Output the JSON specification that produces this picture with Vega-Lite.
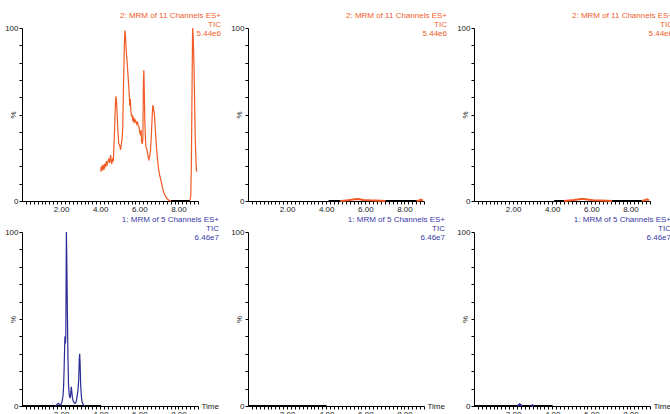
{
  "$schema": "https://vega.github.io/schema/vega-lite/v6.json",
  "padding": {"left": 4, "top": 12, "right": 0, "bottom": 0},
  "background": "white",
  "config": {
    "view": {"stroke": null},
    "axis": {"grid": false, "domainColor": "black", "tickColor": "black", "labelFont": "Liberation Sans", "labelFontSize": 8, "labelColor": "#222", "titleFont": "Liberation Sans", "titleFontSize": 8, "titleFontWeight": "normal", "titleColor": "#222", "labelOverlap": false, "labelFlush": false},
    "title": {"font": "Liberation Sans", "fontSize": 8, "fontWeight": "normal", "anchor": "end", "align": "right", "frame": "group", "lineHeight": 9, "dx": 23, "offset": -14}
  },
  "data": {"values": [
    {"panel":"t1","kind":"trace","seg":"a","time":4.02,"pct":17},{"panel":"t1","kind":"trace","seg":"a","time":4.06,"pct":20},{"panel":"t1","kind":"trace","seg":"a","time":4.1,"pct":17.5},{"panel":"t1","kind":"trace","seg":"a","time":4.14,"pct":21},{"panel":"t1","kind":"trace","seg":"a","time":4.19,"pct":18},{"panel":"t1","kind":"trace","seg":"a","time":4.23,"pct":21.5},{"panel":"t1","kind":"trace","seg":"a","time":4.27,"pct":19.5},{"panel":"t1","kind":"trace","seg":"a","time":4.31,"pct":23},{"panel":"t1","kind":"trace","seg":"a","time":4.35,"pct":21},{"panel":"t1","kind":"trace","seg":"a","time":4.39,"pct":22.5},{"panel":"t1","kind":"trace","seg":"a","time":4.44,"pct":24.5},{"panel":"t1","kind":"trace","seg":"a","time":4.48,"pct":22},{"panel":"t1","kind":"trace","seg":"a","time":4.53,"pct":26.5},{"panel":"t1","kind":"trace","seg":"a","time":4.56,"pct":23.5},{"panel":"t1","kind":"trace","seg":"a","time":4.59,"pct":21.5},{"panel":"t1","kind":"trace","seg":"a","time":4.63,"pct":24},{"panel":"t1","kind":"trace","seg":"a","time":4.67,"pct":23},{"panel":"t1","kind":"trace","seg":"a","time":4.7,"pct":31},{"panel":"t1","kind":"trace","seg":"a","time":4.75,"pct":47},{"panel":"t1","kind":"trace","seg":"a","time":4.78,"pct":57},{"panel":"t1","kind":"trace","seg":"a","time":4.8,"pct":60.5},{"panel":"t1","kind":"trace","seg":"a","time":4.83,"pct":58},{"panel":"t1","kind":"trace","seg":"a","time":4.86,"pct":52},{"panel":"t1","kind":"trace","seg":"a","time":4.9,"pct":41},{"panel":"t1","kind":"trace","seg":"a","time":4.95,"pct":33},{"panel":"t1","kind":"trace","seg":"a","time":5.0,"pct":32},{"panel":"t1","kind":"trace","seg":"a","time":5.04,"pct":29.5},{"panel":"t1","kind":"trace","seg":"a","time":5.08,"pct":33},{"panel":"t1","kind":"trace","seg":"a","time":5.12,"pct":36},{"panel":"t1","kind":"trace","seg":"a","time":5.15,"pct":42},{"panel":"t1","kind":"trace","seg":"a","time":5.19,"pct":66},{"panel":"t1","kind":"trace","seg":"a","time":5.23,"pct":88},{"panel":"t1","kind":"trace","seg":"a","time":5.26,"pct":98.5},{"panel":"t1","kind":"trace","seg":"a","time":5.29,"pct":96},{"panel":"t1","kind":"trace","seg":"a","time":5.31,"pct":91},{"panel":"t1","kind":"trace","seg":"a","time":5.35,"pct":84},{"panel":"t1","kind":"trace","seg":"a","time":5.38,"pct":79.5},{"panel":"t1","kind":"trace","seg":"a","time":5.42,"pct":73},{"panel":"t1","kind":"trace","seg":"a","time":5.46,"pct":66},{"panel":"t1","kind":"trace","seg":"a","time":5.49,"pct":60},{"panel":"t1","kind":"trace","seg":"a","time":5.51,"pct":55},{"panel":"t1","kind":"trace","seg":"a","time":5.54,"pct":59},{"panel":"t1","kind":"trace","seg":"a","time":5.57,"pct":52},{"panel":"t1","kind":"trace","seg":"a","time":5.6,"pct":49},{"panel":"t1","kind":"trace","seg":"a","time":5.63,"pct":50},{"panel":"t1","kind":"trace","seg":"a","time":5.66,"pct":47},{"panel":"t1","kind":"trace","seg":"a","time":5.7,"pct":48},{"panel":"t1","kind":"trace","seg":"a","time":5.74,"pct":45},{"panel":"t1","kind":"trace","seg":"a","time":5.78,"pct":47},{"panel":"t1","kind":"trace","seg":"a","time":5.82,"pct":46},{"panel":"t1","kind":"trace","seg":"a","time":5.86,"pct":44.5},{"panel":"t1","kind":"trace","seg":"a","time":5.9,"pct":46},{"panel":"t1","kind":"trace","seg":"a","time":5.94,"pct":43.5},{"panel":"t1","kind":"trace","seg":"a","time":5.98,"pct":43},{"panel":"t1","kind":"trace","seg":"a","time":6.02,"pct":40},{"panel":"t1","kind":"trace","seg":"a","time":6.06,"pct":38},{"panel":"t1","kind":"trace","seg":"a","time":6.09,"pct":41},{"panel":"t1","kind":"trace","seg":"a","time":6.12,"pct":34},{"panel":"t1","kind":"trace","seg":"a","time":6.15,"pct":33},{"panel":"t1","kind":"trace","seg":"a","time":6.18,"pct":36},{"panel":"t1","kind":"trace","seg":"a","time":6.21,"pct":70},{"panel":"t1","kind":"trace","seg":"a","time":6.23,"pct":75.5},{"panel":"t1","kind":"trace","seg":"a","time":6.25,"pct":66},{"panel":"t1","kind":"trace","seg":"a","time":6.28,"pct":47},{"panel":"t1","kind":"trace","seg":"a","time":6.31,"pct":36},{"panel":"t1","kind":"trace","seg":"a","time":6.34,"pct":31},{"panel":"t1","kind":"trace","seg":"a","time":6.38,"pct":30},{"panel":"t1","kind":"trace","seg":"a","time":6.42,"pct":28},{"panel":"t1","kind":"trace","seg":"a","time":6.46,"pct":25},{"panel":"t1","kind":"trace","seg":"a","time":6.49,"pct":24},{"panel":"t1","kind":"trace","seg":"a","time":6.53,"pct":26},{"panel":"t1","kind":"trace","seg":"a","time":6.57,"pct":29},{"panel":"t1","kind":"trace","seg":"a","time":6.61,"pct":37},{"panel":"t1","kind":"trace","seg":"a","time":6.65,"pct":47},{"panel":"t1","kind":"trace","seg":"a","time":6.68,"pct":54},{"panel":"t1","kind":"trace","seg":"a","time":6.7,"pct":55.5},{"panel":"t1","kind":"trace","seg":"a","time":6.73,"pct":53},{"panel":"t1","kind":"trace","seg":"a","time":6.77,"pct":50},{"panel":"t1","kind":"trace","seg":"a","time":6.8,"pct":45},{"panel":"t1","kind":"trace","seg":"a","time":6.83,"pct":39},{"panel":"t1","kind":"trace","seg":"a","time":6.87,"pct":32},{"panel":"t1","kind":"trace","seg":"a","time":6.9,"pct":28},{"panel":"t1","kind":"trace","seg":"a","time":6.95,"pct":22},{"panel":"t1","kind":"trace","seg":"a","time":6.99,"pct":18},{"panel":"t1","kind":"trace","seg":"a","time":7.04,"pct":15},{"panel":"t1","kind":"trace","seg":"a","time":7.1,"pct":12},{"panel":"t1","kind":"trace","seg":"a","time":7.16,"pct":9},{"panel":"t1","kind":"trace","seg":"a","time":7.22,"pct":6},{"panel":"t1","kind":"trace","seg":"a","time":7.28,"pct":4},{"panel":"t1","kind":"trace","seg":"a","time":7.35,"pct":2.5},{"panel":"t1","kind":"trace","seg":"a","time":7.42,"pct":1.3},{"panel":"t1","kind":"trace","seg":"a","time":7.5,"pct":0.5},{"panel":"t1","kind":"trace","seg":"a","time":7.58,"pct":0.1},{"panel":"t1","kind":"trace","seg":"a","time":7.66,"pct":0},
    {"panel":"t1","kind":"trace","seg":"b","time":8.55,"pct":0},{"panel":"t1","kind":"trace","seg":"b","time":8.6,"pct":1},{"panel":"t1","kind":"trace","seg":"b","time":8.63,"pct":3},{"panel":"t1","kind":"trace","seg":"b","time":8.66,"pct":20},{"panel":"t1","kind":"trace","seg":"b","time":8.69,"pct":58},{"panel":"t1","kind":"trace","seg":"b","time":8.72,"pct":95},{"panel":"t1","kind":"trace","seg":"b","time":8.73,"pct":100},{"panel":"t1","kind":"trace","seg":"b","time":8.75,"pct":96},{"panel":"t1","kind":"trace","seg":"b","time":8.78,"pct":85},{"panel":"t1","kind":"trace","seg":"b","time":8.8,"pct":76},{"panel":"t1","kind":"trace","seg":"b","time":8.83,"pct":55},{"panel":"t1","kind":"trace","seg":"b","time":8.86,"pct":36},{"panel":"t1","kind":"trace","seg":"b","time":8.89,"pct":25},{"panel":"t1","kind":"trace","seg":"b","time":8.92,"pct":18},{"panel":"t1","kind":"trace","seg":"b","time":8.94,"pct":17},
    {"panel":"t1","kind":"base","seg":"c","time":7.62,"pct":0},{"panel":"t1","kind":"base","seg":"c","time":8.58,"pct":0},

    {"panel":"t2","kind":"base","seg":"c","time":4.12,"pct":0},{"panel":"t2","kind":"base","seg":"c","time":4.73,"pct":0},
    {"panel":"t2","kind":"base","seg":"d","time":7.02,"pct":0},{"panel":"t2","kind":"base","seg":"d","time":8.63,"pct":0},
    {"panel":"t2","kind":"trace","seg":"a","time":4.73,"pct":0},{"panel":"t2","kind":"trace","seg":"a","time":4.9,"pct":0.2},{"panel":"t2","kind":"trace","seg":"a","time":5.1,"pct":0.4},{"panel":"t2","kind":"trace","seg":"a","time":5.3,"pct":0.7},{"panel":"t2","kind":"trace","seg":"a","time":5.45,"pct":1},{"panel":"t2","kind":"trace","seg":"a","time":5.58,"pct":1.2},{"panel":"t2","kind":"trace","seg":"a","time":5.7,"pct":1},{"panel":"t2","kind":"trace","seg":"a","time":5.9,"pct":0.6},{"panel":"t2","kind":"trace","seg":"a","time":6.2,"pct":0.4},{"panel":"t2","kind":"trace","seg":"a","time":6.5,"pct":0.3},{"panel":"t2","kind":"trace","seg":"a","time":6.8,"pct":0.2},{"panel":"t2","kind":"trace","seg":"a","time":7.02,"pct":0},
    {"panel":"t2","kind":"trace","seg":"b","time":8.63,"pct":0},{"panel":"t2","kind":"trace","seg":"b","time":8.75,"pct":0.3},{"panel":"t2","kind":"trace","seg":"b","time":8.84,"pct":0.8},{"panel":"t2","kind":"trace","seg":"b","time":8.9,"pct":0.4},{"panel":"t2","kind":"trace","seg":"b","time":8.95,"pct":0.2},

    {"panel":"t3","kind":"base","seg":"c","time":4.1,"pct":0},{"panel":"t3","kind":"base","seg":"c","time":4.6,"pct":0},
    {"panel":"t3","kind":"base","seg":"d","time":7.06,"pct":0},{"panel":"t3","kind":"base","seg":"d","time":8.58,"pct":0},
    {"panel":"t3","kind":"trace","seg":"a","time":4.6,"pct":0},{"panel":"t3","kind":"trace","seg":"a","time":4.85,"pct":0.3},{"panel":"t3","kind":"trace","seg":"a","time":5.1,"pct":0.6},{"panel":"t3","kind":"trace","seg":"a","time":5.3,"pct":0.9},{"panel":"t3","kind":"trace","seg":"a","time":5.45,"pct":1.2},{"panel":"t3","kind":"trace","seg":"a","time":5.6,"pct":1.1},{"panel":"t3","kind":"trace","seg":"a","time":5.8,"pct":0.8},{"panel":"t3","kind":"trace","seg":"a","time":6.1,"pct":0.5},{"panel":"t3","kind":"trace","seg":"a","time":6.5,"pct":0.3},{"panel":"t3","kind":"trace","seg":"a","time":6.8,"pct":0.2},{"panel":"t3","kind":"trace","seg":"a","time":7.06,"pct":0},
    {"panel":"t3","kind":"trace","seg":"b","time":8.6,"pct":0},{"panel":"t3","kind":"trace","seg":"b","time":8.72,"pct":0.4},{"panel":"t3","kind":"trace","seg":"b","time":8.84,"pct":1},{"panel":"t3","kind":"trace","seg":"b","time":8.9,"pct":0.6},{"panel":"t3","kind":"trace","seg":"b","time":8.95,"pct":0.3},

    {"panel":"b1","kind":"base","seg":"c","time":0,"pct":0},{"panel":"b1","kind":"base","seg":"c","time":4.05,"pct":0},
    {"panel":"b1","kind":"trace","seg":"a","time":1.7,"pct":0},{"panel":"b1","kind":"trace","seg":"a","time":1.78,"pct":0.8},{"panel":"b1","kind":"trace","seg":"a","time":1.85,"pct":1.5},{"panel":"b1","kind":"trace","seg":"a","time":1.9,"pct":1},{"panel":"b1","kind":"trace","seg":"a","time":1.95,"pct":0.5},{"panel":"b1","kind":"trace","seg":"a","time":2.0,"pct":1},{"panel":"b1","kind":"trace","seg":"a","time":2.05,"pct":2.5},{"panel":"b1","kind":"trace","seg":"a","time":2.1,"pct":6},{"panel":"b1","kind":"trace","seg":"a","time":2.13,"pct":12},{"panel":"b1","kind":"trace","seg":"a","time":2.16,"pct":24},{"panel":"b1","kind":"trace","seg":"a","time":2.19,"pct":38},{"panel":"b1","kind":"trace","seg":"a","time":2.2,"pct":40},{"panel":"b1","kind":"trace","seg":"a","time":2.22,"pct":36},{"panel":"b1","kind":"trace","seg":"a","time":2.24,"pct":40},{"panel":"b1","kind":"trace","seg":"a","time":2.26,"pct":80},{"panel":"b1","kind":"trace","seg":"a","time":2.27,"pct":100},{"panel":"b1","kind":"trace","seg":"a","time":2.29,"pct":85},{"panel":"b1","kind":"trace","seg":"a","time":2.32,"pct":55},{"panel":"b1","kind":"trace","seg":"a","time":2.35,"pct":28},{"panel":"b1","kind":"trace","seg":"a","time":2.38,"pct":12},{"panel":"b1","kind":"trace","seg":"a","time":2.42,"pct":6},{"panel":"b1","kind":"trace","seg":"a","time":2.46,"pct":4.5},{"panel":"b1","kind":"trace","seg":"a","time":2.49,"pct":7},{"panel":"b1","kind":"trace","seg":"a","time":2.52,"pct":11},{"panel":"b1","kind":"trace","seg":"a","time":2.55,"pct":8},{"panel":"b1","kind":"trace","seg":"a","time":2.58,"pct":4.5},{"panel":"b1","kind":"trace","seg":"a","time":2.63,"pct":2.5},{"panel":"b1","kind":"trace","seg":"a","time":2.7,"pct":1.5},{"panel":"b1","kind":"trace","seg":"a","time":2.76,"pct":2},{"panel":"b1","kind":"trace","seg":"a","time":2.81,"pct":5},{"panel":"b1","kind":"trace","seg":"a","time":2.86,"pct":9},{"panel":"b1","kind":"trace","seg":"a","time":2.9,"pct":15},{"panel":"b1","kind":"trace","seg":"a","time":2.93,"pct":27},{"panel":"b1","kind":"trace","seg":"a","time":2.95,"pct":30},{"panel":"b1","kind":"trace","seg":"a","time":2.97,"pct":25},{"panel":"b1","kind":"trace","seg":"a","time":3.0,"pct":12},{"panel":"b1","kind":"trace","seg":"a","time":3.04,"pct":5},{"panel":"b1","kind":"trace","seg":"a","time":3.08,"pct":2},{"panel":"b1","kind":"trace","seg":"a","time":3.14,"pct":0.6},{"panel":"b1","kind":"trace","seg":"a","time":3.2,"pct":0},

    {"panel":"b2","kind":"base","seg":"c","time":0,"pct":0},{"panel":"b2","kind":"base","seg":"c","time":4.02,"pct":0},

    {"panel":"b3","kind":"base","seg":"c","time":0,"pct":0},{"panel":"b3","kind":"base","seg":"c","time":4.02,"pct":0},
    {"panel":"b3","kind":"trace","seg":"a","time":2.22,"pct":0},{"panel":"b3","kind":"trace","seg":"a","time":2.3,"pct":0.6},{"panel":"b3","kind":"trace","seg":"a","time":2.34,"pct":1},{"panel":"b3","kind":"trace","seg":"a","time":2.38,"pct":0.6},{"panel":"b3","kind":"trace","seg":"a","time":2.45,"pct":0},
    {"panel":"b3","kind":"trace","seg":"b","time":2.92,"pct":0},{"panel":"b3","kind":"trace","seg":"b","time":2.99,"pct":0.5},{"panel":"b3","kind":"trace","seg":"b","time":3.06,"pct":0}
  ]},
  "columns": 3,
  "spacing": {"row": 31, "column": 50},
  "bounds": "flush",
  "concat": [
      {"width": 176, "height": 173,
       "title": {"text": ["2: MRM of 11 Channels ES+", "TIC", "5.44e6"], "color": "#f0602a"},
       "encoding": {
         "x": {"field": "time", "type": "quantitative", "scale": {"domain": [0, 9], "nice": false}, "axis": {"title": null, "values": [0.2,0.4,0.6,0.8,1,1.2,1.4,1.6,1.8,2,2.2,2.4,2.6,2.8,3,3.2,3.4,3.6,3.8,4,4.2,4.4,4.6,4.8,5,5.2,5.4,5.6,5.8,6,6.2,6.4,6.6,6.8,7,7.2,7.4,7.6,7.8,8,8.2,8.4,8.6,8.8,9], "labelExpr": "datum.value==2||datum.value==4||datum.value==6||datum.value==8 ? format(datum.value,'.2f') : ''", "tickSize": 3, "labelPadding": 1}},
         "y": {"field": "pct", "type": "quantitative", "scale": {"domain": [0, 100], "nice": false}, "axis": {"title": "%", "titleX": -9, "titleY": 86.5, "titleAngle": 270, "titleAlign": "center", "titleBaseline": "middle", "values": [0,10,20,30,40,50,60,70,80,90,100], "labelExpr": "datum.value==0||datum.value==100 ? datum.label : ''", "tickSize": 3, "labelPadding": 1}},
         "detail": {"field": "seg"}
       },
       "layer": [
         {"transform": [{"filter": "datum.panel=='t1' && datum.kind=='trace'"}], "mark": {"type": "line", "color": "#f15a24", "strokeWidth": 1.2}},
         {"transform": [{"filter": "datum.panel=='t1' && datum.kind=='base'"}], "mark": {"type": "line", "color": "black", "strokeWidth": 2}}
       ]},
      {"width": 176, "height": 173,
       "title": {"text": ["2: MRM of 11 Channels ES+", "TIC", "5.44e6"], "color": "#f0602a"},
       "encoding": {
         "x": {"field": "time", "type": "quantitative", "scale": {"domain": [0, 9], "nice": false}, "axis": {"title": null, "values": [0.2,0.4,0.6,0.8,1,1.2,1.4,1.6,1.8,2,2.2,2.4,2.6,2.8,3,3.2,3.4,3.6,3.8,4,4.2,4.4,4.6,4.8,5,5.2,5.4,5.6,5.8,6,6.2,6.4,6.6,6.8,7,7.2,7.4,7.6,7.8,8,8.2,8.4,8.6,8.8,9], "labelExpr": "datum.value==2||datum.value==4||datum.value==6||datum.value==8 ? format(datum.value,'.2f') : ''", "tickSize": 3, "labelPadding": 1}},
         "y": {"field": "pct", "type": "quantitative", "scale": {"domain": [0, 100], "nice": false}, "axis": {"title": "%", "titleX": -9, "titleY": 86.5, "titleAngle": 270, "titleAlign": "center", "titleBaseline": "middle", "values": [0,10,20,30,40,50,60,70,80,90,100], "labelExpr": "datum.value==0||datum.value==100 ? datum.label : ''", "tickSize": 3, "labelPadding": 1}},
         "detail": {"field": "seg"}
       },
       "layer": [
         {"transform": [{"filter": "datum.panel=='t2' && datum.kind=='base'"}], "mark": {"type": "line", "color": "black", "strokeWidth": 2}},
         {"transform": [{"filter": "datum.panel=='t2' && datum.kind=='trace'"}], "mark": {"type": "line", "color": "#f15a24", "strokeWidth": 2}}
       ]},
      {"width": 176, "height": 173,
       "title": {"text": ["2: MRM of 11 Channels ES+", "TIC", "5.44e6"], "color": "#f0602a"},
       "encoding": {
         "x": {"field": "time", "type": "quantitative", "scale": {"domain": [0, 9], "nice": false}, "axis": {"title": null, "values": [0.2,0.4,0.6,0.8,1,1.2,1.4,1.6,1.8,2,2.2,2.4,2.6,2.8,3,3.2,3.4,3.6,3.8,4,4.2,4.4,4.6,4.8,5,5.2,5.4,5.6,5.8,6,6.2,6.4,6.6,6.8,7,7.2,7.4,7.6,7.8,8,8.2,8.4,8.6,8.8,9], "labelExpr": "datum.value==2||datum.value==4||datum.value==6||datum.value==8 ? format(datum.value,'.2f') : ''", "tickSize": 3, "labelPadding": 1}},
         "y": {"field": "pct", "type": "quantitative", "scale": {"domain": [0, 100], "nice": false}, "axis": {"title": "%", "titleX": -9, "titleY": 86.5, "titleAngle": 270, "titleAlign": "center", "titleBaseline": "middle", "values": [0,10,20,30,40,50,60,70,80,90,100], "labelExpr": "datum.value==0||datum.value==100 ? datum.label : ''", "tickSize": 3, "labelPadding": 1}},
         "detail": {"field": "seg"}
       },
       "layer": [
         {"transform": [{"filter": "datum.panel=='t3' && datum.kind=='base'"}], "mark": {"type": "line", "color": "black", "strokeWidth": 2}},
         {"transform": [{"filter": "datum.panel=='t3' && datum.kind=='trace'"}], "mark": {"type": "line", "color": "#f15a24", "strokeWidth": 2}}
       ]},
      {"width": 176, "height": 174,
       "title": {"text": ["1: MRM of 5 Channels ES+", "TIC", "6.46e7"], "color": "#3a3aa6", "dx": 21},
       "encoding": {
         "x": {"field": "time", "type": "quantitative", "scale": {"domain": [0, 9], "nice": false}, "axis": {"title": "Time", "titleX": 179, "titleY": 0, "titleAlign": "left", "titleBaseline": "middle", "titleAngle": 0, "values": [0.2,0.4,0.6,0.8,1,1.2,1.4,1.6,1.8,2,2.2,2.4,2.6,2.8,3,3.2,3.4,3.6,3.8,4,4.2,4.4,4.6,4.8,5,5.2,5.4,5.6,5.8,6,6.2,6.4,6.6,6.8,7,7.2,7.4,7.6,7.8,8,8.2,8.4,8.6,8.8,9], "labelExpr": "datum.value==2||datum.value==4||datum.value==6||datum.value==8 ? format(datum.value,'.2f') : ''", "tickSize": 3, "labelPadding": 1}},
         "y": {"field": "pct", "type": "quantitative", "scale": {"domain": [0, 100], "nice": false}, "axis": {"title": "%", "titleX": -9, "titleY": 87, "titleAngle": 270, "titleAlign": "center", "titleBaseline": "middle", "values": [0,10,20,30,40,50,60,70,80,90,100], "labelExpr": "datum.value==0||datum.value==100 ? datum.label : ''", "tickSize": 3, "labelPadding": 1}},
         "detail": {"field": "seg"}
       },
       "layer": [
         {"transform": [{"filter": "datum.panel=='b1' && datum.kind=='base'"}], "mark": {"type": "line", "color": "black", "strokeWidth": 2}},
         {"transform": [{"filter": "datum.panel=='b1' && datum.kind=='trace'"}], "mark": {"type": "line", "color": "#2b2b98", "strokeWidth": 1.2}}
       ]},
      {"width": 176, "height": 174,
       "title": {"text": ["1: MRM of 5 Channels ES+", "TIC", "6.46e7"], "color": "#3a3aa6", "dx": 21},
       "encoding": {
         "x": {"field": "time", "type": "quantitative", "scale": {"domain": [0, 9], "nice": false}, "axis": {"title": "Time", "titleX": 179, "titleY": 0, "titleAlign": "left", "titleBaseline": "middle", "titleAngle": 0, "values": [0.2,0.4,0.6,0.8,1,1.2,1.4,1.6,1.8,2,2.2,2.4,2.6,2.8,3,3.2,3.4,3.6,3.8,4,4.2,4.4,4.6,4.8,5,5.2,5.4,5.6,5.8,6,6.2,6.4,6.6,6.8,7,7.2,7.4,7.6,7.8,8,8.2,8.4,8.6,8.8,9], "labelExpr": "datum.value==2||datum.value==4||datum.value==6||datum.value==8 ? format(datum.value,'.2f') : ''", "tickSize": 3, "labelPadding": 1}},
         "y": {"field": "pct", "type": "quantitative", "scale": {"domain": [0, 100], "nice": false}, "axis": {"title": "%", "titleX": -9, "titleY": 87, "titleAngle": 270, "titleAlign": "center", "titleBaseline": "middle", "values": [0,10,20,30,40,50,60,70,80,90,100], "labelExpr": "datum.value==0||datum.value==100 ? datum.label : ''", "tickSize": 3, "labelPadding": 1}},
         "detail": {"field": "seg"}
       },
       "layer": [
         {"transform": [{"filter": "datum.panel=='b2' && datum.kind=='base'"}], "mark": {"type": "line", "color": "black", "strokeWidth": 2}}
       ]},
      {"width": 176, "height": 174,
       "title": {"text": ["1: MRM of 5 Channels ES+", "TIC", "6.46e7"], "color": "#3a3aa6", "dx": 21},
       "encoding": {
         "x": {"field": "time", "type": "quantitative", "scale": {"domain": [0, 9], "nice": false}, "axis": {"title": "Time", "titleX": 179, "titleY": 0, "titleAlign": "left", "titleBaseline": "middle", "titleAngle": 0, "values": [0.2,0.4,0.6,0.8,1,1.2,1.4,1.6,1.8,2,2.2,2.4,2.6,2.8,3,3.2,3.4,3.6,3.8,4,4.2,4.4,4.6,4.8,5,5.2,5.4,5.6,5.8,6,6.2,6.4,6.6,6.8,7,7.2,7.4,7.6,7.8,8,8.2,8.4,8.6,8.8,9], "labelExpr": "datum.value==2||datum.value==4||datum.value==6||datum.value==8 ? format(datum.value,'.2f') : ''", "tickSize": 3, "labelPadding": 1}},
         "y": {"field": "pct", "type": "quantitative", "scale": {"domain": [0, 100], "nice": false}, "axis": {"title": "%", "titleX": -9, "titleY": 87, "titleAngle": 270, "titleAlign": "center", "titleBaseline": "middle", "values": [0,10,20,30,40,50,60,70,80,90,100], "labelExpr": "datum.value==0||datum.value==100 ? datum.label : ''", "tickSize": 3, "labelPadding": 1}},
         "detail": {"field": "seg"}
       },
       "layer": [
         {"transform": [{"filter": "datum.panel=='b3' && datum.kind=='base'"}], "mark": {"type": "line", "color": "black", "strokeWidth": 2}},
         {"transform": [{"filter": "datum.panel=='b3' && datum.kind=='trace'"}], "mark": {"type": "line", "color": "#2b2b98", "strokeWidth": 2}}
       ]}
  ]
}
